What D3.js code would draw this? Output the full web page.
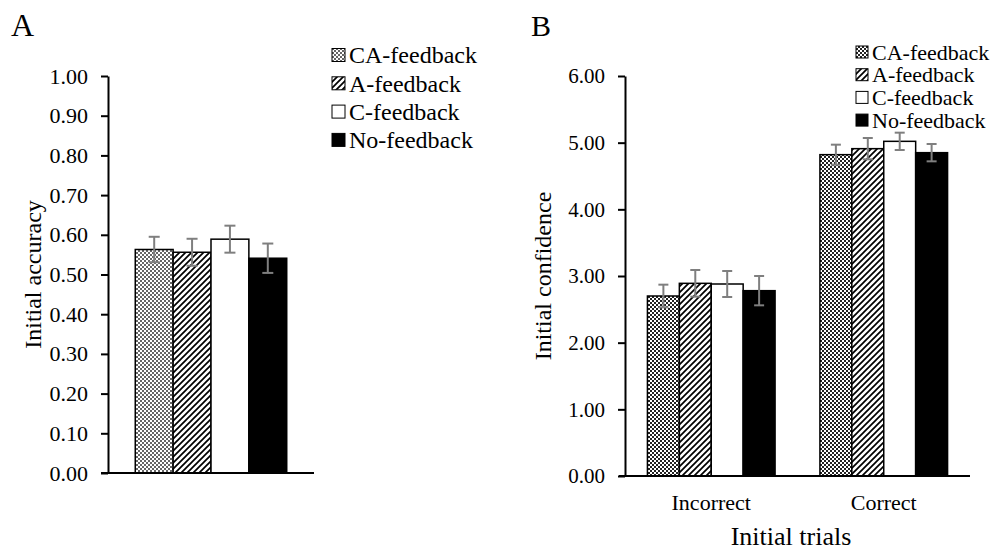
<!DOCTYPE html>
<html>
<head>
<meta charset="utf-8">
<script src="https://cdn.jsdelivr.net/npm/d3@7"></script>
<style>
  html, body { margin: 0; padding: 0; background: #fff; }
  svg { display: block; font-family: "Liberation Serif", "Times New Roman", serif; }
</style>
</head>
<body>
<svg id="chart" width="1003" height="551"></svg>
<script>
// ---------- data ----------
const seriesNames = ["CA-feedback", "A-feedback", "C-feedback", "No-feedback"];

// Panel A: initial accuracy
const accuracyMeans = [0.563, 0.556, 0.589, 0.541];
const accuracyErrors = [0.032, 0.034, 0.034, 0.037];
const accuracyTicks = [0, 0.1, 0.2, 0.3, 0.4, 0.5, 0.6, 0.7, 0.8, 0.9, 1.0];

// Panel B: initial confidence by trial type
const trialCategories = ["Incorrect", "Correct"];
const confIncorrect = [2.70, 2.89, 2.88, 2.78];
const confIncorrectErr = [0.17, 0.20, 0.195, 0.22];
const confCorrect = [4.82, 4.91, 5.02, 4.85];
const confCorrectErr = [0.15, 0.16, 0.13, 0.13];
const confidenceTicks = [0, 1, 2, 3, 4, 5, 6];

// ---------- setup ----------
const svg = d3.select("#chart");
const defs = svg.append("defs");

function checker(id, color) {
  const p = defs.append("pattern").attr("id", id).attr("patternUnits", "userSpaceOnUse")
    .attr("width", 4).attr("height", 4);
  p.append("rect").attr("width", 4).attr("height", 4).attr("fill", "#fff");
  p.append("rect").attr("x", 0).attr("y", 0).attr("width", 2).attr("height", 2).attr("fill", color);
  p.append("rect").attr("x", 2).attr("y", 2).attr("width", 2).attr("height", 2).attr("fill", color);
}
function stripes(id) {
  const s = 6;
  const p = defs.append("pattern").attr("id", id).attr("patternUnits", "userSpaceOnUse")
    .attr("width", s).attr("height", s);
  p.append("rect").attr("width", s).attr("height", s).attr("fill", "#fff");
  p.append("path").attr("d", `M-1,1 l2,-2 M0,${s} l${s},-${s} M${s-1},${s+1} l2,-2`)
    .attr("stroke", "#000").attr("stroke-width", 1.7);
}
checker("checkA", "#666");
checker("checkB", "#222");
stripes("stripe");

const fillsA = ["url(#checkA)", "url(#stripe)", "#fff", "#000"];
const fillsB = ["url(#checkB)", "url(#stripe)", "#fff", "#000"];

const errColor = "#7f7f7f";

function drawYAxis(g, y, ticks, x0, fontSize) {
  const ax = g.append("g").attr("transform", `translate(${x0},0)`)
    .call(d3.axisLeft(y).tickValues(ticks).tickFormat(d3.format(".2f"))
      .tickSize(7).tickSizeOuter(0).tickPadding(13));
  ax.select(".domain").attr("stroke", "#000").attr("stroke-width", 2);
  ax.selectAll(".tick line").attr("stroke", "#000").attr("stroke-width", 2);
  ax.selectAll(".tick text").attr("fill", "#000").style("font-size", fontSize + "px")
    .style("font-family", "Liberation Serif, Times New Roman, serif");
  return ax;
}

function drawErrors(g, cx, y, vals, errs, cap) {
  vals.forEach((v, i) => {
    const x = cx(i);
    g.append("line").attr("x1", x).attr("x2", x).attr("y1", y(v - errs[i])).attr("y2", y(v + errs[i]))
      .attr("stroke", errColor).attr("stroke-width", 2);
    [v - errs[i], v + errs[i]].forEach(e => {
      g.append("line").attr("x1", x - cap / 2).attr("x2", x + cap / 2).attr("y1", y(e)).attr("y2", y(e))
        .attr("stroke", errColor).attr("stroke-width", 2);
    });
  });
}

function drawLegend(g, x, y0, dy, fontSize, box, fills) {
  seriesNames.forEach((name, i) => {
    const yy = y0 + i * dy;
    g.append("rect").attr("x", x).attr("y", yy - box / 2).attr("width", box).attr("height", box)
      .attr("fill", fills[i]).attr("stroke", "#000").attr("stroke-width", 1);
    g.append("text").attr("x", x + box + 4).attr("y", yy).attr("dy", "0.35em")
      .style("font-size", fontSize + "px").attr("fill", "#000").text(name);
  });
}

// ---------- Panel A ----------
{
  const g = svg.append("g");
  const y = d3.scaleLinear().domain([0, 1]).range([473, 76]);
  const x = d3.scaleBand().domain(["all"]).range([108, 314]).paddingOuter(0.18).paddingInner(0);
  const xi = d3.scaleBand().domain(d3.range(seriesNames.length)).range([0, x.bandwidth()]);

  g.selectAll("rect.bar").data(accuracyMeans).join("rect").attr("class", "bar")
    .attr("x", (d, i) => x("all") + xi(i)).attr("width", xi.bandwidth())
    .attr("y", d => y(d)).attr("height", d => y(0) - y(d))
    .attr("fill", (d, i) => fillsA[i]).attr("stroke", "#000").attr("stroke-width", 1.5);

  drawErrors(g, i => x("all") + xi(i) + xi.bandwidth() / 2, y, accuracyMeans, accuracyErrors, 11);

  drawYAxis(g, y, accuracyTicks, 108, 22);
  // x axis baseline
  g.append("line").attr("x1", 108 - 7).attr("x2", x.range()[1]).attr("y1", y(0)).attr("y2", y(0))
    .attr("stroke", "#000").attr("stroke-width", 2);

  g.append("text").attr("transform", `translate(33,${(y(0) + y(1)) / 2}) rotate(-90)`)
    .attr("text-anchor", "middle").attr("dy", "0.35em").style("font-size", "24px").text("Initial accuracy");

  g.append("text").attr("x", 11).attr("y", 36).style("font-size", "32px").text("A");

  drawLegend(g, 332, 55, 28.3, 24, 13, fillsA);
}

// ---------- Panel B ----------
{
  const g = svg.append("g");
  const y = d3.scaleLinear().domain([0, 6]).range([476, 76]);
  const x = d3.scaleBand().domain(trialCategories).range([625, 970]).paddingInner(0.26).paddingOuter(0.13);
  const xi = d3.scaleBand().domain(d3.range(seriesNames.length)).range([0, x.bandwidth()]);
  const data = { Incorrect: [confIncorrect, confIncorrectErr], Correct: [confCorrect, confCorrectErr] };

  trialCategories.forEach(cat => {
    const [vals, errs] = data[cat];
    g.selectAll(null).data(vals).join("rect")
      .attr("x", (d, i) => x(cat) + xi(i)).attr("width", xi.bandwidth())
      .attr("y", d => y(d)).attr("height", d => y(0) - y(d))
      .attr("fill", (d, i) => fillsB[i]).attr("stroke", "#000").attr("stroke-width", 1.5);
    drawErrors(g, i => x(cat) + xi(i) + xi.bandwidth() / 2, y, vals, errs, 10);
  });

  drawYAxis(g, y, confidenceTicks, 625, 21);
  g.append("line").attr("x1", 625 - 6).attr("x2", x.range()[1]).attr("y1", y(0)).attr("y2", y(0))
    .attr("stroke", "#000").attr("stroke-width", 2);

  trialCategories.forEach(cat => {
    g.append("text").attr("x", x(cat) + x.bandwidth() / 2).attr("y", 510)
      .attr("text-anchor", "middle").style("font-size", "22px").text(cat);
  });
  g.append("text").attr("x", 791).attr("y", 545).attr("text-anchor", "middle")
    .style("font-size", "26px").text("Initial trials");

  g.append("text").attr("transform", `translate(543,${(y(0) + y(6)) / 2}) rotate(-90)`)
    .attr("text-anchor", "middle").attr("dy", "0.35em").style("font-size", "24px").text("Initial confidence");

  g.append("text").attr("x", 531).attr("y", 36).style("font-size", "30px").text("B");

  drawLegend(g, 856, 52, 22.7, 22, 12, fillsB);
}
</script>
</body>
</html>
